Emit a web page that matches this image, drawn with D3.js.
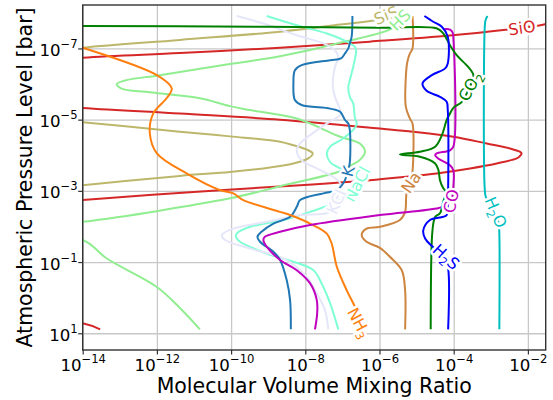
<!DOCTYPE html>
<html><head><meta charset="utf-8">
<script src="https://cdn.jsdelivr.net/npm/d3@7"></script>
<style>body{margin:0;background:#fff} text{font-family:"DejaVu Sans",sans-serif}</style>
</head><body><svg id="c" width="553" height="400"></svg>
<script>
// ---- data: each point is [log10(volume mixing ratio), log10(pressure / bar)] ----
const H2O = [[-3.09,-7.91],[-3.14,-7.80],[-3.16,-7.65],[-3.16,-3.00],[-3.13,-2.82],[-3.02,-2.65],[-2.88,-2.40],[-2.79,-2.10],[-2.77,-1.80],[-2.77,0.89]];
const CO = [[-4.26,-7.54],[-4.10,-7.53],[-4.03,-7.45],[-4.01,-7.30],[-4.01,-4.24],[-4.10,-4.14],[-4.46,-4.05],[-4.50,-4.00],[-4.42,-3.91],[-4.10,-3.72],[-4.01,-3.58],[-4.01,-3.11],[-4.05,-2.80],[-4.20,-2.60],[-4.40,-2.52],[-5.99,-2.32],[-7.87,-2.04],[-8.68,-1.85],[-9.09,-1.71],[-9.13,-1.62],[-9.04,-1.43],[-8.68,-1.06],[-8.23,-0.77],[-7.87,-0.40],[-7.69,0.07],[-7.68,0.44],[-7.74,0.89]];
const CO2 = [[-14.6,-7.63],[-9.0,-7.61],[-6.0,-7.58],[-4.45,-7.56],[-4.28,-7.42],[-4.10,-7.09],[-3.92,-6.81],[-3.61,-6.48],[-3.47,-6.25],[-3.56,-5.94],[-3.78,-5.50],[-4.01,-5.33],[-4.12,-5.13],[-4.19,-4.99],[-4.32,-4.56],[-4.50,-4.24],[-4.91,-4.10],[-5.45,-4.02],[-4.91,-3.96],[-4.50,-3.77],[-4.41,-3.58],[-4.37,-3.30],[-4.28,-3.07],[-4.21,-2.97],[-4.28,-2.70],[-4.37,-2.37],[-4.50,-2.27],[-4.55,-2.08],[-4.59,-1.61],[-4.62,0.89]];
const H2S = [[-4.79,-7.91],[-4.55,-7.75],[-4.32,-7.61],[-4.16,-7.33],[-4.16,-6.58],[-4.23,-6.44],[-4.59,-6.25],[-4.84,-6.02],[-4.73,-5.81],[-4.37,-5.64],[-4.19,-5.50],[-4.16,-5.27],[-4.15,-3.00],[-4.16,-2.60],[-4.19,-2.32],[-4.64,-2.18],[-4.82,-1.89],[-4.77,-1.66],[-4.61,-1.47],[-4.25,-1.15],[-4.15,-0.82],[-4.15,0.89]];
const NH3 = [[-16.0,-7.60],[-14.0,-7.02],[-12.0,-6.25],[-11.6,-5.88],[-11.74,-5.60],[-12.10,-5.17],[-12.19,-4.61],[-12.0,-4.05],[-11.2,-3.49],[-10.30,-3.02],[-9.94,-2.93],[-9.67,-2.74],[-8.68,-2.41],[-8.41,-2.32],[-7.87,-2.08],[-7.42,-1.80],[-7.29,-1.52],[-7.15,-0.87],[-6.88,-0.20],[-6.66,0.26],[-6.42,0.89]];
const Na = [[-5.11,-7.91],[-5.11,-7.00],[-5.18,-6.86],[-5.25,-6.62],[-5.29,-6.20],[-5.29,-5.36],[-5.18,-5.03],[-5.11,-4.89],[-5.11,-3.53],[-5.15,-3.27],[-5.27,-2.93],[-5.31,-2.41],[-5.45,-2.18],[-5.99,-1.99],[-6.35,-1.94],[-6.48,-1.76],[-6.35,-1.57],[-5.99,-1.40],[-5.72,-1.15],[-5.40,-0.77],[-5.31,-0.21],[-5.31,0.89]];
const K = [[-6.73,-7.91],[-6.75,-7.33],[-6.80,-7.14],[-6.84,-7.00],[-6.93,-6.86],[-7.04,-6.72],[-7.33,-6.67],[-8.10,-6.53],[-8.28,-6.39],[-8.32,-6.02],[-8.28,-5.55],[-8.10,-5.41],[-7.33,-5.31],[-7.06,-5.22],[-6.93,-4.99],[-6.84,-4.89],[-6.80,-4.71],[-6.81,-3.72],[-6.87,-3.55],[-6.93,-3.30],[-7.15,-3.02],[-7.51,-2.93],[-8.14,-2.74],[-8.23,-2.55],[-8.41,-2.27],[-8.86,-2.08],[-9.18,-1.85],[-9.29,-1.71],[-9.22,-1.57],[-8.86,-1.29],[-8.68,-1.06],[-8.50,-0.49],[-8.41,0.07],[-8.39,0.89]];
const NaCl = [[-9.04,-7.91],[-8.23,-7.65],[-7.42,-7.42],[-6.88,-7.19],[-6.66,-7.04],[-6.63,-6.95],[-6.71,-6.48],[-6.80,-6.11],[-6.84,-5.92],[-6.80,-5.64],[-6.71,-5.46],[-6.66,-5.03],[-6.61,-4.89],[-6.71,-4.71],[-6.98,-4.47],[-7.33,-4.24],[-7.42,-4.05],[-7.33,-3.81],[-7.06,-3.63],[-6.75,-3.44],[-6.63,-3.19],[-6.90,-2.85],[-7.25,-2.65],[-7.87,-2.41],[-8.59,-2.18],[-9.49,-1.99],[-9.85,-1.80],[-9.87,-1.71],[-9.76,-1.57],[-9.04,-1.24],[-8.32,-1.01],[-7.78,-0.77],[-7.56,-0.40],[-7.33,0.16],[-7.11,0.89]];
const KCl = [[-9.85,-7.91],[-9.13,-7.70],[-8.23,-7.37],[-7.51,-7.14],[-7.20,-6.95],[-7.11,-6.76],[-7.20,-6.48],[-7.26,-5.97],[-7.20,-5.64],[-7.06,-5.27],[-7.06,-5.13],[-7.42,-4.89],[-8.14,-4.33],[-8.23,-4.14],[-8.10,-3.86],[-7.69,-3.63],[-7.25,-3.39],[-7.06,-3.21],[-7.17,-2.74],[-7.33,-2.41],[-8.14,-2.32],[-9.04,-2.13],[-9.94,-1.94],[-10.25,-1.76],[-10.16,-1.62],[-9.49,-1.38],[-8.59,-1.10],[-7.96,-0.58],[-7.69,-0.12],[-7.47,0.35],[-7.38,0.89]];
const SiO = [[-0.9,-7.91],[-1.54,-7.68],[-2.16,-7.58],[-2.54,-7.53],[-4.10,-7.36],[-6.26,-7.19],[-8.68,-7.02],[-11.38,-6.87],[-14.0,-6.74],[-16.0,-6.55],[-16.0,-5.50],[-14.0,-5.33],[-11.38,-5.17],[-8.68,-5.00],[-5.99,-4.75],[-5.09,-4.66],[-4.01,-4.52],[-3.11,-4.33],[-2.48,-4.19],[-2.22,-4.10],[-2.17,-4.05],[-2.22,-3.97],[-2.30,-3.91],[-2.84,-3.77],[-3.56,-3.63],[-4.46,-3.49],[-5.36,-3.39],[-6.26,-3.30],[-8.14,-3.16],[-10.30,-3.02],[-14.0,-2.74],[-16.0,-2.55],[-16.0,0.55],[-14.0,0.72],[-13.53,0.89]];
const SiS = [[-5.66,-7.91],[-5.99,-7.81],[-7.06,-7.67],[-8.68,-7.47],[-11.38,-7.24],[-14.0,-7.02],[-16.0,-6.80],[-16.0,-5.10],[-14.0,-4.93],[-11.38,-4.66],[-10.03,-4.53],[-8.68,-4.38],[-8.32,-4.28],[-7.92,-4.14],[-7.80,-4.05],[-7.92,-3.91],[-8.32,-3.77],[-8.68,-3.70],[-9.13,-3.63],[-10.03,-3.53],[-11.38,-3.42],[-14.0,-3.16],[-16.0,-2.95],[-16.0,0.89]];
const HS = [[-5.40,-7.91],[-5.58,-7.61],[-7.06,-7.16],[-8.68,-6.78],[-10.03,-6.56],[-11.92,-6.25],[-12.86,-6.10],[-13.08,-6.00],[-12.95,-5.87],[-12.19,-5.77],[-10.84,-5.60],[-10.03,-5.38],[-9.49,-5.27],[-8.23,-5.03],[-7.06,-4.52],[-6.53,-4.33],[-6.39,-4.10],[-6.53,-3.87],[-6.85,-3.67],[-7.06,-3.55],[-8.68,-3.13],[-10.03,-2.79],[-14.0,-2.13],[-16.0,-1.95],[-16.0,-1.80],[-14.0,-1.62],[-13.35,-1.10],[-12.0,-0.30],[-11.38,0.29],[-10.84,0.89]];

const xTickExp = [-14, -12, -10, -8, -6, -4, -2];
const yTickExp = [-7, -5, -3, -1, 1];

// ---- series styling and inline labels ----
const series = [
  {name:"SiO", data:SiO, color:"#d62728", label:[["SiO"]], at:[-2.16,-7.58], angle:-8},
  {name:"SiS", data:SiS, color:"#bdb76b", label:[["SiS"]], at:[-5.82,-7.93], angle:-22},
  {name:"HS", data:HS, color:"#90ee90", label:[["HS"]], at:[-5.45,-7.80], angle:-45},
  {name:"NaCl", data:NaCl, color:"#7fffd4", label:[["NaCl"]], at:[-6.61,-3.19], angle:-62},
  {name:"KCl", data:KCl, color:"#e6e6fa", label:[["KCl"]], at:[-7.17,-2.70], angle:-66},
  {name:"K", data:K, color:"#1f77b4", label:[["K"]], at:[-6.85,-3.55], angle:-75},
  {name:"NH3", data:NH3, color:"#ff7f0e", label:[["NH"],["3",1]], at:[-6.55,0.70], angle:62},
  {name:"Na", data:Na, color:"#cd853f", label:[["Na"]], at:[-5.15,-3.24], angle:-55},
  {name:"CO", data:CO, color:"#bf00bf", label:[["CO"]], at:[-4.07,-2.71], angle:-78},
  {name:"CO2", data:CO2, color:"#008000", label:[["CO"],["2",1]], at:[-3.56,-5.94], angle:-62},
  {name:"H2S", data:H2S, color:"#0000ff", label:[["H"],["2",1],["S"]], at:[-4.20,-1.15], angle:42},
  {name:"H2O", data:H2O, color:"#00bfbf", label:[["H"],["2",1],["O"]], at:[-2.86,-2.40], angle:66}
];
const labelOrder = ["SiO","SiS","HS","NaCl","K","KCl","Na","CO","CO2","H2S","H2O","NH3"];

// ---- chart ----
const W = 553, H = 400;
const plot = {l:82.7, r:545.7, t:5, b:350};
const x = d3.scaleLog().domain([1e-14, Math.pow(10,-1.52)]).range([plot.l, plot.r]);
const y = d3.scaleLog().domain([Math.pow(10,-8.22), Math.pow(10,1.47)]).range([plot.t, plot.b]);
const xTicks = xTickExp.map(e => Math.pow(10,e));
const yTicks = yTickExp.map(e => Math.pow(10,e));

const svg = d3.select("#c");
svg.append("rect").attr("width",W).attr("height",H).attr("fill","#fff");

svg.append("defs").append("clipPath").attr("id","clip")
  .append("rect").attr("x",plot.l).attr("y",plot.t).attr("width",plot.r-plot.l).attr("height",plot.b-plot.t);

// grid
const gridX = svg.append("g").attr("transform",`translate(0,${plot.b})`)
  .call(d3.axisBottom(x).tickValues(xTicks).tickSize(-(plot.b-plot.t)).tickFormat(""));
const gridY = svg.append("g").attr("transform",`translate(${plot.l},0)`)
  .call(d3.axisLeft(y).tickValues(yTicks).tickSize(-(plot.r-plot.l)).tickFormat(""));
[gridX, gridY].forEach(g => {
  g.select(".domain").remove();
  g.selectAll("line").attr("stroke","#c8c8c8").attr("stroke-width",1.3);
});

// lines
const line = d3.line()
  .x(d => x(Math.pow(10,d[0])))
  .y(d => y(Math.pow(10,d[1])))
  .curve(d3.curveCatmullRom.alpha(0.5));
const gLines = svg.append("g").attr("clip-path","url(#clip)");
series.forEach(s => {
  gLines.append("path").datum(s.data).attr("d",line)
    .attr("fill","none").attr("stroke",s.color).attr("stroke-width",2)
    .attr("stroke-linejoin","round").attr("stroke-linecap","butt");
});

// inline labels
const gLab = svg.append("g");
labelOrder.forEach(n => {
  const s = series.find(d => d.name === n);
  const px = x(Math.pow(10,s.at[0])), py = y(Math.pow(10,s.at[1]));
  const t = gLab.append("text")
    .attr("transform",`translate(${px},${py}) rotate(${s.angle})`)
    .attr("text-anchor","middle").attr("dy","0.36em")
    .attr("font-size",16).attr("fill",s.color)
    .attr("stroke","#fff").attr("stroke-width",5).attr("stroke-linejoin","round")
    .attr("paint-order","stroke");
  let sub = false;
  s.label.forEach(([txt, isSub]) => {
    const ts = t.append("tspan").text(txt);
    if (isSub && !sub) { ts.attr("font-size",11.5).attr("dy",4); sub = true; }
    else if (!isSub && sub) { ts.attr("dy",-4); sub = false; }
  });
});

// spines
svg.append("rect").attr("x",plot.l).attr("y",plot.t)
  .attr("width",plot.r-plot.l).attr("height",plot.b-plot.t)
  .attr("fill","none").attr("stroke","#333").attr("stroke-width",1.4);

// axes
const ax = svg.append("g").attr("transform",`translate(0,${plot.b})`)
  .call(d3.axisBottom(x).tickValues(xTicks).tickSize(4.5).tickFormat(""));
const ay = svg.append("g").attr("transform",`translate(${plot.l},0)`)
  .call(d3.axisLeft(y).tickValues(yTicks).tickSize(4.5).tickFormat(""));
[ax, ay].forEach(g => {
  g.select(".domain").remove();
  g.selectAll("line").attr("stroke","#333").attr("stroke-width",1.2);
});
function powLabel(sel, exp) {
  sel.append("tspan").text("10");
  sel.append("tspan").attr("font-size",11.6).attr("dy",-8)
    .text(exp < 0 ? "\u2212" + Math.abs(exp) : String(exp));
}
ax.selectAll(".tick").each(function(d, i) {
  const t = d3.select(this).select("text")
    .attr("y",21).attr("dy",0).attr("font-size",16.6).attr("fill","#000")
    .attr("text-anchor","middle").text(null);
  powLabel(t, xTickExp[i]);
});
ay.selectAll(".tick").each(function(d, i) {
  const t = d3.select(this).select("text")
    .attr("x",-5).attr("dy",0).attr("y",7).attr("font-size",16.6).attr("fill","#000")
    .attr("text-anchor","end").text(null);
  powLabel(t, yTickExp[i]);
});

// axis titles
svg.append("text").attr("x",(plot.l+plot.r)/2).attr("y",393)
  .attr("text-anchor","middle").attr("font-size",20.5).attr("fill","#000")
  .text("Molecular Volume Mixing Ratio");
svg.append("text").attr("transform",`translate(32,${(plot.t+plot.b)/2}) rotate(-90)`)
  .attr("text-anchor","middle").attr("font-size",20.5).attr("fill","#000")
  .text("Atmospheric Pressure Level [bar]");
</script></body></html>
